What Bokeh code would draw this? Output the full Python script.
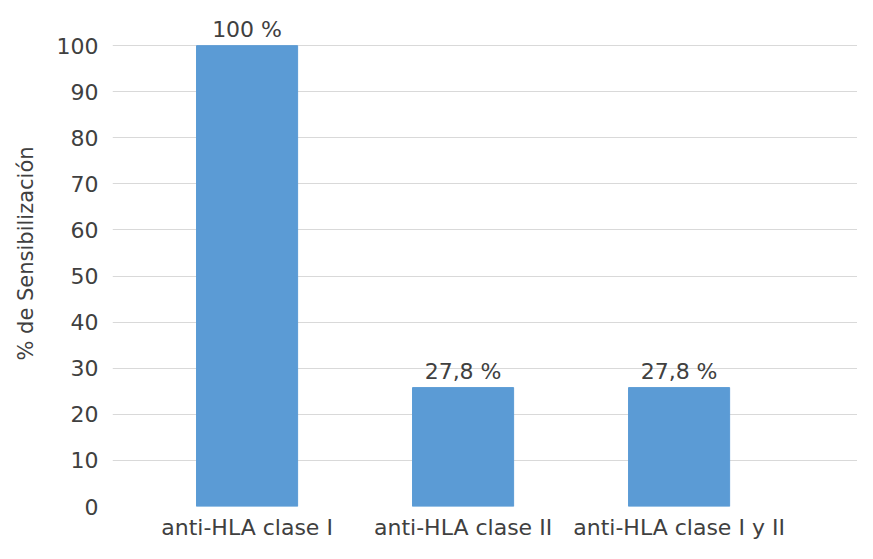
from bokeh.plotting import figure
from bokeh.models import ColumnDataSource, FixedTicker, Range1d
from bokeh.embed import file_html
from bokeh.resources import INLINE

categories = ["anti-HLA clase I", "anti-HLA clase II", "anti-HLA clase I y II"]
values = [100, 25.8, 25.8]
value_labels = ["100 %", "27,8 %", "27,8 %"]
y_ticks = [0, 10, 20, 30, 40, 50, 60, 70, 80, 90, 100]
y_title = "% de Sensibilización"

xs = list(range(len(categories)))
src = ColumnDataSource(dict(x=xs, top=values, lab=value_labels))

FONT = "DejaVu Sans"
TXT = "#404040"

p = figure(width=857, height=543, output_backend="svg", toolbar_location=None,
           x_range=Range1d(-0.623, 2.826), y_range=Range1d(0, 109.8),
           min_border_left=112, min_border_right=0, min_border_top=0,
           min_border_bottom=37)
p.outline_line_color = None

p.vbar(x="x", top="top", width=0.468, source=src, color="#5B9BD5")
p.text(x="x", y="top", text="lab", source=src, text_align="center",
       text_baseline="bottom", y_offset=-4, text_font_size="22px",
       text_color=TXT, text_font={"value": FONT})

p.xaxis.ticker = FixedTicker(ticks=xs)
p.xaxis.major_label_overrides = {i: c for i, c in enumerate(categories)}
p.yaxis.ticker = FixedTicker(ticks=y_ticks)
for ax in (p.xaxis, p.yaxis):
    ax.axis_line_color = None
    ax.major_tick_line_color = None
    ax.minor_tick_line_color = None
    ax.major_tick_out = 0
    ax.major_tick_in = 0
    ax.major_label_text_font = FONT
    ax.major_label_text_font_size = "22px"
    ax.major_label_text_color = TXT
p.xaxis.major_label_standoff = 8
p.yaxis.major_label_standoff = 14

p.yaxis.axis_label = y_title
p.yaxis.axis_label_text_font = FONT
p.yaxis.axis_label_text_font_size = "21px"
p.yaxis.axis_label_text_font_style = "normal"
p.yaxis.axis_label_text_color = TXT
p.yaxis.axis_label_standoff = 16

p.xgrid.grid_line_color = None
p.ygrid.ticker = FixedTicker(ticks=y_ticks)
p.ygrid.grid_line_color = "#D9D9D9"
p.ygrid.grid_line_width = 1

open("out.html", "w").write(file_html(p, INLINE))
